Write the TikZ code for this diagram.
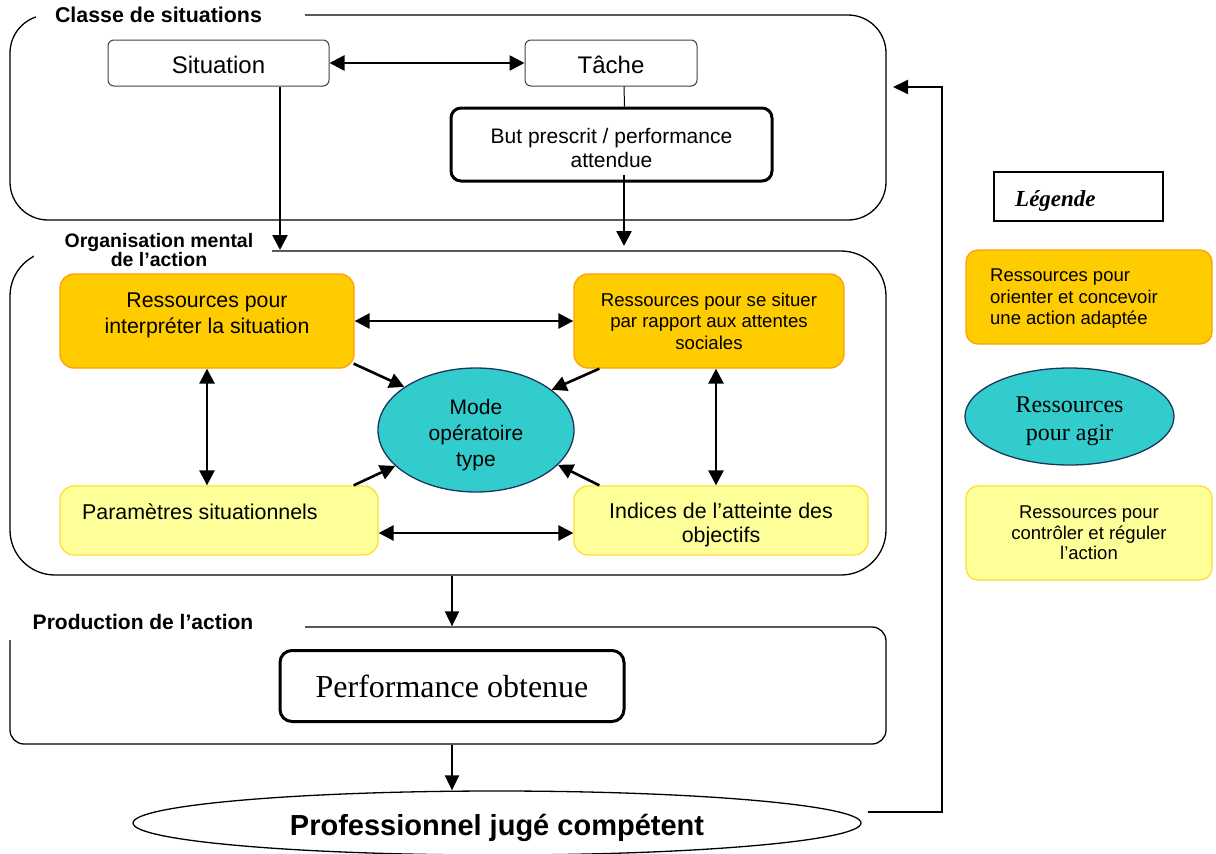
\documentclass[tikz,border=0pt]{standalone}
\usepackage{fontspec}
\setmainfont{Liberation Serif}
\setsansfont{Liberation Sans}
\usetikzlibrary{arrows.meta,shapes.geometric}
\newcommand\fsz[2]{\fontsize{#1}{#2}\selectfont}
\definecolor{orfill}{HTML}{FFCC00}
\definecolor{orline}{HTML}{FFA000}
\definecolor{yefill}{HTML}{FFFF99}
\definecolor{yeline}{HTML}{FFDD33}
\definecolor{tealfill}{HTML}{33CCCC}
\definecolor{navyline}{HTML}{17375E}
\tikzset{
  framebox/.style={draw=black, line width=1.3pt, inner sep=0pt},
  sitbox/.style={draw=black!75, line width=1pt, rounded corners=6pt, inner sep=0pt},
  thickbox/.style={draw=black, line width=3pt, rounded corners=10pt, inner sep=0pt},
  orbox/.style={draw=orline, fill=orfill, line width=1.3pt, rounded corners=14pt, inner sep=0pt},
  yebox/.style={draw=yeline, fill=yefill, line width=1.3pt, rounded corners=14pt, inner sep=0pt},
  tealell/.style={ellipse, draw=navyline, fill=tealfill, line width=1.3pt, inner sep=0pt},
  arr/.style={line width=2.6pt, -{Triangle[length=15pt,width=15pt]}},
  dbl/.style={line width=2.6pt, {Triangle[length=15pt,width=15pt]}-{Triangle[length=15pt,width=15pt]}},
  arrtwo/.style={line width=1.9pt, -{Triangle[length=15pt,width=14pt]}},
  lbl/.style={inner sep=0pt}
}
\begin{document}
\begin{tikzpicture}[x=1pt, y=-1pt, font=\sffamily]
\useasboundingbox (0,0) rectangle (1216,854);
% frames
\node[framebox, rounded corners=38pt, minimum width=876pt, minimum height=205pt] (classe) at (448,117.5) {};
\node[framebox, rounded corners=45pt, minimum width=876pt, minimum height=324pt] (org) at (448,413) {};
\node[framebox, rounded corners=14pt, minimum width=876pt, minimum height=117pt] (prod) at (448,685.5) {};
% label backgrounds
\fill[white] (36,0) rectangle (305,30);
\fill[white] (34,224) rectangle (272,263);
\fill[white] (0,598) rectangle (305,640);
% frame labels
\node[lbl, font=\sffamily\bfseries\fsz{21.4}{24}] (lclasse) at (158.5,15) {Classe de situations};
\node[lbl, align=center, font=\sffamily\bfseries\fsz{19.5}{19}] (lorg) at (159,250) {Organisation mental\\de l’action};
\node[lbl, font=\sffamily\bfseries\fsz{21}{24}] (lprod) at (143,622) {Production de l’action};
% classe de situations
\node[sitbox, minimum width=221pt, minimum height=46pt] (sit) at (218.5,63) {};
\node[lbl, font=\sffamily\fsz{24}{28}] (sitt) at (218.5,65) {Situation};
\node[sitbox, minimum width=172pt, minimum height=46pt] (tache) at (611,63) {};
\node[lbl, font=\sffamily\fsz{24}{28}] (tachet) at (611,65) {Tâche};
\node[thickbox, minimum width=321pt, minimum height=73pt] (but) at (611.5,144.5) {};
\node[lbl, align=center, font=\sffamily\fsz{21}{24}] (butt) at (611.5,148) {But prescrit / performance\\attendue};
\draw[dbl] (sit.east) -- (tache.west);
\draw[line width=1pt] ([xshift=13pt]tache.south) -- ([xshift=13pt]but.north);
\coordinate (sitdown) at (280,250);
\coordinate (butdown) at (624,246);
\draw[arr] (sit.south -| sitdown) -- (sitdown);
\draw[arr] ([yshift=8pt]but.south -| butdown) -- (butdown);
% organisation mentale
\node[orbox, minimum width=294pt, minimum height=94pt] (r1) at (207,321) {};
\node[lbl, align=center, font=\sffamily\fsz{21.3}{26}] (r1t) at (207,315.5) {Ressources pour\\interpréter la situation};
\node[orbox, minimum width=270pt, minimum height=94pt, align=center, font=\sffamily\fsz{18.6}{21.5}] (r2) at (709,321) {Ressources pour se situer\\par rapport aux attentes\\sociales};
\node[tealell, minimum width=196pt, minimum height=124pt] (mode) at (476,430) {};
\node[lbl, align=center, font=\sffamily\fsz{21}{26}] (modet) at (476,435) {Mode\\opératoire\\type};
\node[yebox, minimum width=318pt, minimum height=69pt] (par) at (219,520.5) {};
\node[lbl, anchor=west, font=\sffamily\fsz{21.4}{26}] (part) at (82,512) {Paramètres situationnels};
\node[yebox, minimum width=294pt, minimum height=69pt] (ind) at (721,520.5) {};
\node[lbl, align=center, font=\sffamily\fsz{21.4}{24}] (indt) at (721,524.5) {Indices de l’atteinte des\\objectifs};
\draw[dbl] (r1.east) -- (r2.west);
\draw[dbl] (r1.south) -- (r1.south |- par.north);
\draw[dbl] ([xshift=7pt]r2.south) -- ([xshift=-5pt]ind.north);
\draw[dbl] ([yshift=-12.5pt]par.east) -- ([yshift=-12.5pt]ind.west);
\draw[arr] ([shift={(-1pt,5pt)}]r1.south east) -- (mode.149);
\draw[arr] ([xshift=26pt]r2.south west) -- (mode.28);
\draw[arr] ([xshift=-25pt]par.north east) -- (mode.204);
\draw[arr] ([xshift=26pt]ind.north west) -- (mode.-23);
% production
\node[thickbox, rounded corners=12pt, minimum width=344pt, minimum height=71pt, font=\rmfamily\fsz{32}{36}] (perf) at (452,686) {Performance obtenue};
\node[ellipse, draw=black, line width=1.3pt, inner sep=0pt, minimum width=728pt, minimum height=64pt] (prof) at (497,823) {};
\node[lbl, font=\sffamily\bfseries\fsz{29}{32}] (proft) at (497,828) {Professionnel jugé compétent};
\draw[arrtwo] (org.south -| perf.north) -- (prod.north -| perf.north);
\draw[arrtwo] (prod.south -| perf.south) -- (perf.south |- prof.north);
\coordinate (fbc) at (942,812);
\coordinate (fbt) at (893,87);
\draw[arrtwo] ([shift={(6pt,11pt)}]prof.east) -- (fbc) |- (fbt);
% legend
\node[draw=black, line width=1.6pt, minimum width=169pt, minimum height=49pt, inner sep=0pt] (leg) at (1078.5,196.5) {};
\node[lbl, anchor=west, font=\rmfamily\bfseries\itshape\fsz{23}{26}] (legt) at (1015,200.5) {Légende};
\node[orbox, rounded corners=12pt, minimum width=246pt, minimum height=94pt] (lor) at (1089,297) {};
\node[lbl, anchor=west, align=left, font=\sffamily\fsz{18.5}{21.5}] (lort) at (990,299) {Ressources pour\\orienter et concevoir\\une action adaptée};
\node[tealell, minimum width=209pt, minimum height=97pt] (lte) at (1069.5,416.5) {};
\node[lbl, align=center, font=\rmfamily\fsz{24}{28}] (ltet) at (1069.5,421) {Ressources\\pour agir};
\node[yebox, rounded corners=12pt, minimum width=246pt, minimum height=94pt, align=center, font=\sffamily\fsz{18.5}{20.5}] (lye) at (1089,533) {Ressources pour\\contrôler et réguler\\l’action};
\end{tikzpicture}
\end{document}
